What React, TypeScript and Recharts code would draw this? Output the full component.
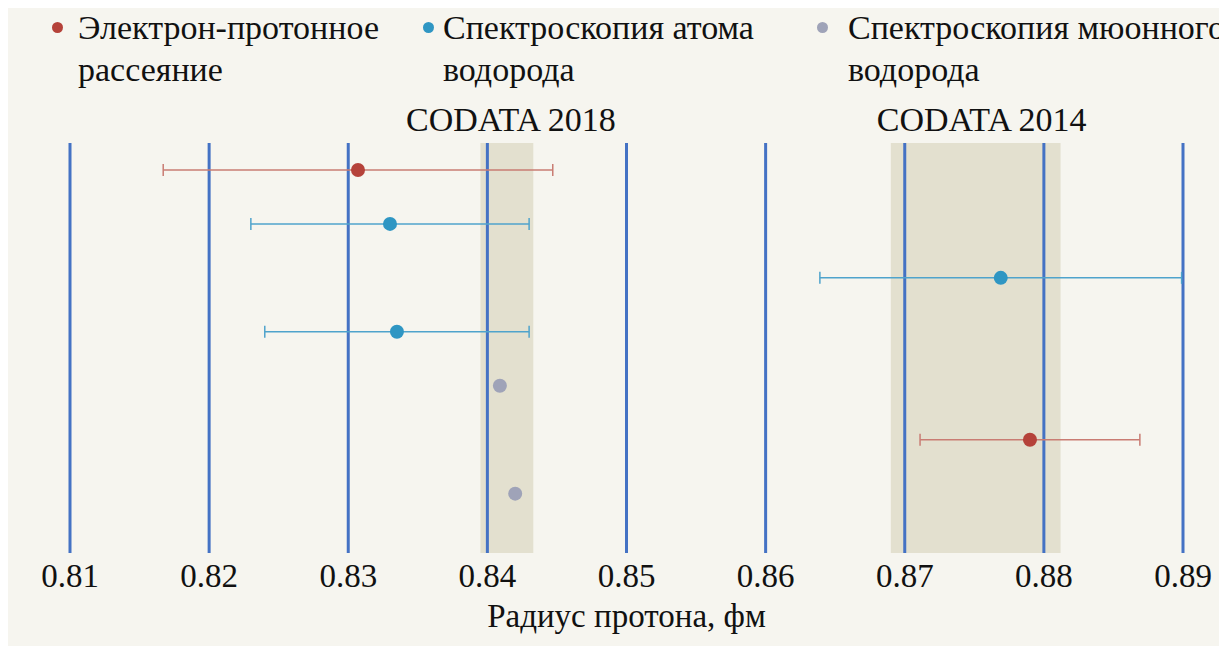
import { ScatterChart, Scatter, XAxis, YAxis, ErrorBar, ReferenceArea, ReferenceLine } from "recharts";

// радиус протона, фм
const RADIUS_TICKS = [0.81, 0.82, 0.83, 0.84, 0.85, 0.86, 0.87, 0.88, 0.89];

// row = номер строки сверху вниз
const ELECTRON_SCATTERING = [
  { row: 1, radius: 0.8307, err: 0.014 },
  { row: 6, radius: 0.879, err: 0.0079 },
];
const HYDROGEN_SPECTRO = [
  { row: 2, radius: 0.833, err: 0.01 },
  { row: 3, radius: 0.8769, err: 0.013 },
  { row: 4, radius: 0.8335, err: 0.0095 },
];
const MUONIC_HYDROGEN = [
  { row: 5, radius: 0.8409 },
  { row: 7, radius: 0.842 },
];

const CODATA = [
  { label: "CODATA 2018", value: 0.8414, unc: 0.0019, dx: 4 },
  { label: "CODATA 2014", value: 0.8751, unc: 0.0061, dx: 6 },
];

const LEGEND = [
  { lines: ["Электрон-протонное", "рассеяние"], color: "#b5423a", dotX: 49, textX: 70 },
  { lines: ["Спектроскопия атома", "водорода"], color: "#2f96c3", dotX: 420, textX: 435 },
  { lines: ["Спектроскопия мюонного", "водорода"], color: "#9fa3b8", dotX: 814, textX: 840 },
];

const FONT = "'Liberation Serif', 'Times New Roman', serif";
const BG = "#f6f5ef";
const GRID = "#4472c4";

const dot = (color: string) => (p: any) => <circle cx={p.cx} cy={p.cy} r={7} fill={color} />;

export default function App() {
  return (
    <div style={{ position: "relative", width: 1219, height: 638, background: BG, fontFamily: FONT, color: "#111" }}>
      {LEGEND.map((l, i) => (
        <div key={i}>
          <div style={{ position: "absolute", left: l.dotX - 5, top: 14, width: 11, height: 11, borderRadius: "50%", background: l.color }} />
          <div style={{ position: "absolute", left: l.textX, top: -1, fontSize: 34, lineHeight: "42px", whiteSpace: "nowrap" }}>
            {l.lines.map((t, j) => <div key={j}>{t}</div>)}
          </div>
        </div>
      ))}
      <ScatterChart width={1219} height={638} margin={{ top: 135, right: 44, bottom: 13, left: 62 }} style={{ position: "absolute", left: 0, top: 0 }}>
        <XAxis
          type="number"
          dataKey="radius"
          domain={[0.81, 0.89]}
          ticks={RADIUS_TICKS}
          allowDataOverflow
          axisLine={false}
          tickLine={false}
          tickMargin={5}
          height={80}
          tickFormatter={(v: number) => v.toFixed(2)}
          tick={{ fontSize: 33, fontFamily: FONT, fill: "#111" }}
          label={{ value: "Радиус протона, фм", position: "insideBottom", offset: 6, fontSize: 33, fontFamily: FONT, fill: "#111" }}
        />
        <YAxis type="number" dataKey="row" domain={[0.5, 8.1]} reversed hide />
        {CODATA.map((c) => (
          <ReferenceArea
            key={c.label}
            x1={c.value - c.unc}
            x2={c.value + c.unc}
            y1={0.5}
            y2={8.1}
            fill="#e3e0cf"
            fillOpacity={1}
            stroke="none"
            label={{ value: c.label, position: "top", offset: 12, dx: c.dx, fontSize: 34, fontFamily: FONT, fill: "#111" }}
          />
        ))}
        {RADIUS_TICKS.map((t) => (
          <ReferenceLine key={t} x={t} stroke={GRID} strokeWidth={3} />
        ))}
        <Scatter data={ELECTRON_SCATTERING} shape={dot("#b5423a")} isAnimationActive={false}>
          <ErrorBar dataKey="err" direction="x" width={6} stroke="#c97c73" strokeWidth={1.5} />
        </Scatter>
        <Scatter data={HYDROGEN_SPECTRO} shape={dot("#2f96c3")} isAnimationActive={false}>
          <ErrorBar dataKey="err" direction="x" width={6} stroke="#4fa3cc" strokeWidth={1.5} />
        </Scatter>
        <Scatter data={MUONIC_HYDROGEN} shape={dot("#9fa3b8")} isAnimationActive={false} />
      </ScatterChart>
    </div>
  );
}
